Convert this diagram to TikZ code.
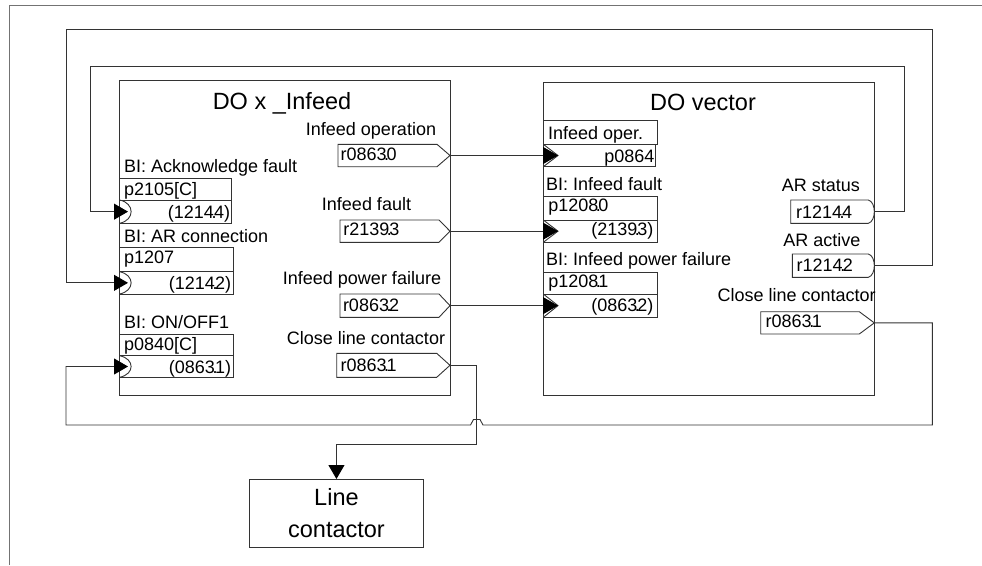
\documentclass[tikz,border=0pt]{standalone}
\usepackage{fontspec}
\setmainfont{Liberation Sans}
\usetikzlibrary{arrows.meta}
\newcommand\zd{\makebox[0pt]{.}}
\newcommand\mybox[5]{%
  \node[ln, inner sep=0pt, outer sep=0pt, anchor=north west,
        minimum width={(#4-#2)*1pt}, minimum height={(#5-#3)*1pt}] (#1) at (#2,#3) {};}
\newcommand\outpent[6]{%
  \draw[ln] (#2,#3) -- (#4,#3) -- (#6,{(#3+#5)/2}) -- (#4,#5) -- (#2,#5) -- cycle;
  \coordinate (#1) at (#6,{(#3+#5)/2});}
\newcommand\outround[6]{%
  \draw[ln] (#2,#3) -- (#4,#3) .. controls ({#6+2},{#3+2}) and ({#6+2},{#5-2}) .. (#4,#5) -- (#2,#5) -- cycle;
  \coordinate (#1) at (#6,{(#3+#5)/2});}
\newcommand\roundnotch[3]{%
  \draw[ln] (#1,#2) .. controls ({#1+15.5},{#2+3}) and ({#1+15.5},{#3-3}) .. (#1,#3);}
\newcommand\trinotch[4]{%
  \draw[ln] (#1,#2) -- (#4,{(#2+#3)/2}) -- (#1,#3);}
\begin{document}
\begin{tikzpicture}[x=1pt,y=-1pt,
  ln/.style={draw=black!80, line width=0.9pt},
  lbl/.style={inner sep=0pt, outer sep=0pt, font=\fontsize{18}{21}\selectfont},
  ttl/.style={inner sep=0pt, outer sep=0pt, font=\fontsize{23.5}{31.7}\selectfont},
  arr/.style={ln, -{Triangle[length=14pt,width=16pt,color=black]}},
  arrb/.style={ln, -{Triangle[length=15pt,width=17pt,color=black]}},
  ]
\useasboundingbox (0,0) rectangle (982,565);
% page frame
\draw[draw=black!55, line width=0.9pt] (9.5,565) -- (9.5,5) -- (982,5);

% blocks
\mybox{doA}{119.5}{80.7}{450}{395}
\mybox{doB}{543.3}{82.7}{874.3}{395}

% left block inputs
\mybox{pA1}{119.5}{178.3}{231}{200}
\mybox{pA1b}{119.5}{200}{231}{223.3}
\mybox{pA2}{119.5}{247.7}{233}{271.7}
\mybox{pA2b}{119.5}{271.7}{233}{294}
\mybox{pA3}{119.5}{334}{233}{355.7}
\mybox{pA3b}{119.5}{355.7}{233}{377.3}
\coordinate (inA1) at (128,211.65);
\coordinate (inA2) at (128,282.85);
\coordinate (inA3) at (128,366.5);

% right block inputs
\mybox{pB1}{543.3}{120.7}{657.7}{144.3}
\mybox{pB1b}{543.3}{144.3}{655}{166.7}
\mybox{pB2}{543.3}{196.7}{657.7}{220}
\mybox{pB2b}{543.3}{220}{657.7}{242.3}
\mybox{pB3}{543.3}{272.3}{657.7}{294}
\mybox{pB3b}{543.3}{294}{657.7}{317.3}
\trinotch{543.3}{144.3}{166.7}{558}
\trinotch{543.3}{220}{242.3}{558}
\trinotch{543.3}{294}{317.3}{558}
\coordinate (inB1) at (558,155.5);
\coordinate (inB2) at (558,231.15);
\coordinate (inB3) at (558,305.65);

% outputs
\outpent{oA1}{338}{144.3}{437}{166.7}{450}
\outpent{oA2}{340}{220}{439}{242.3}{450}
\outpent{oA3}{340}{294}{439}{317.3}{450}
\outpent{oA4}{336.7}{353.3}{436.7}{377.3}{450}
\outround{oB1}{790.7}{200}{868.3}{223.3}{874.3}
\outround{oB2}{792.3}{254}{868.3}{277.3}{874.3}
\outpent{oB3}{760.7}{311.7}{859.3}{334}{874.3}

% line contactor
\node[ln, inner sep=0pt, anchor=north west, minimum width=173.4pt, minimum height=67.7pt,
      align=center, font=\fontsize{23.5}{31.7}\selectfont] (lc) at (249.3,479) {Line\\contactor};

% connectors
\draw[arrb] (oA1) -- (inB1);
\draw[arrb] (oA2) -- (inB2);
\draw[arrb] (oA3) -- (inB3);
\draw[arr] (oB1) -- ++(30,0) |- (90.7,66.7) |- (inA1);
\draw[arr] (oB2) -- ++(58,0) |- (66,29.3) |- (inA2);
\draw[arr] (oB3) -- ++(58,0) |- (483,425) -- (480,419.5) -- (473.5,419.5) -- (470.5,425) -- (66,425) |- (inA3);
\draw[arr] (oA4) -- ++(26.7,0) -- ++(0,79) -| (lc.north);

% round notches on left inputs (drawn over arrowheads)
\roundnotch{119.5}{200}{223.3}
\roundnotch{119.5}{271.7}{294}
\roundnotch{119.5}{355.7}{377.3}

% texts, left block
\node[ttl, anchor=base] (tA) at (282,109) {DO x \_Infeed};
\node[lbl, anchor=base] (lA1) at (371,135) {Infeed operation};
\node[lbl, anchor=base] (lA2) at (366.5,210) {Infeed fault};
\node[lbl, anchor=base] (lA3) at (362,284) {Infeed power failure};
\node[lbl, anchor=base] (lA4) at (366,344) {Close line contactor};
\node[lbl, anchor=base west] (lA5) at (124,172) {BI: Acknowledge fault};
\node[lbl, anchor=base west] (lA6) at (124,242) {BI: AR connection};
\node[lbl, anchor=base west] (lA7) at (124,328.3) {BI: ON/OFF1};
\node[lbl, anchor=base west] (tpA1) at (124,195) {p2105[C]};
\node[lbl, anchor=base east] (tpA1b) at (230,218.3) {(1214\zd4)};
\node[lbl, anchor=base west] (tpA2) at (124,263.3) {p1207};
\node[lbl, anchor=base east] (tpA2b) at (231,289.3) {(1214\zd2)};
\node[lbl, anchor=base west] (tpA3) at (124,350) {p0840[C]};
\node[lbl, anchor=base east] (tpA3b) at (231,373.3) {(0863\zd1)};
\node[lbl, anchor=base west] (toA1) at (340.7,160) {r0863\zd0};
\node[lbl, anchor=base west] (toA2) at (343.3,235) {r2139\zd3};
\node[lbl, anchor=base west] (toA3) at (343,311.7) {r0863\zd2};
\node[lbl, anchor=base west] (toA4) at (340.7,371.7) {r0863\zd1};

% texts, right block
\node[ttl, anchor=base] (tB) at (703,110) {DO vector};
\node[lbl, anchor=base west] (tpB1) at (548,139) {Infeed oper.};
\node[lbl, anchor=base east] (tpB1b) at (654.5,162.3) {p0864};
\node[lbl, anchor=base west] (lB1) at (546,190) {BI: Infeed fault};
\node[lbl, anchor=base west] (tpB2) at (548.3,211.7) {p1208\zd0};
\node[lbl, anchor=base east] (tpB2b) at (653.3,235) {(2139\zd3)};
\node[lbl, anchor=base west] (lB2) at (546,265) {BI: Infeed power failure};
\node[lbl, anchor=base west] (tpB3) at (548.3,287.3) {p1208\zd1};
\node[lbl, anchor=base east] (tpB3b) at (653.3,311.7) {(0863\zd2)};
\node[lbl, anchor=base] (lB3) at (820.8,191.7) {AR status};
\node[lbl, anchor=base west] (toB1) at (796,218.3) {r1214\zd4};
\node[lbl, anchor=base] (lB4) at (821.8,246.7) {AR active};
\node[lbl, anchor=base west] (toB2) at (796.7,271.7) {r1214\zd2};
\node[lbl, anchor=base] (lB5) at (796.7,301.7) {Close line contactor};
\node[lbl, anchor=base west] (toB3) at (765.7,327.7) {r0863\zd1};
\end{tikzpicture}
\end{document}
